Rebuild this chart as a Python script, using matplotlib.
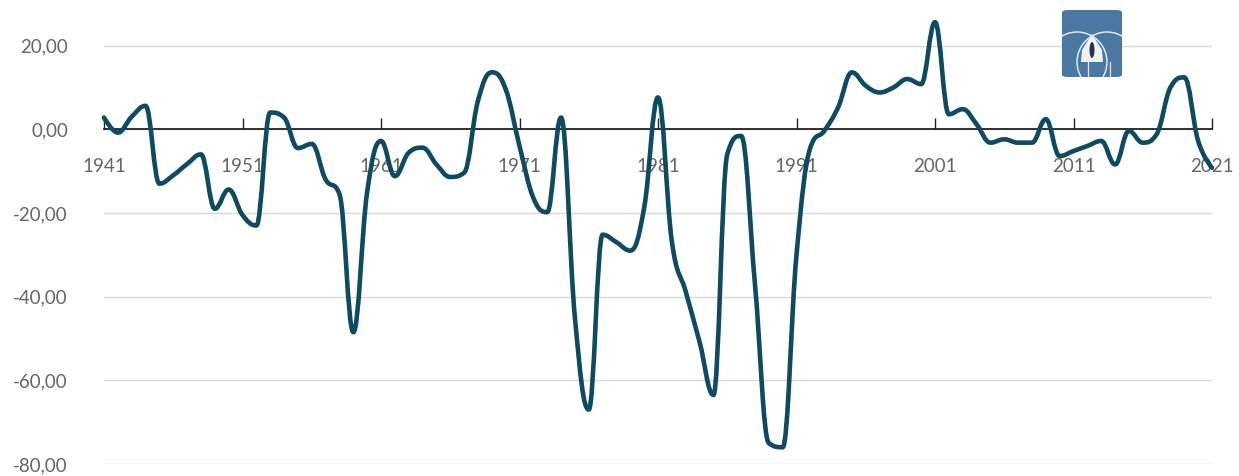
import numpy as np
import matplotlib.pyplot as plt
from matplotlib.path import Path
from matplotlib.patches import PathPatch, FancyBboxPatch, Polygon, Ellipse

years = list(range(1941, 2022))
values = [2.8, -0.8, 3.0, 5.6, -13.0, -11.0, -8.3, -6.0, -19.0, -14.4,
          -20.5, -23.0, 4.0, 2.8, -4.5, -3.5, -12.0, -15.5, -48.5, -15.0,
          -2.8, -11.2, -5.6, -4.4, -8.4, -11.4, -10.4, 6.8, 13.6, 9.6,
          -4.0, -16.4, -19.8, 2.8, -45.0, -67.0, -25.2, -27.0, -29.0, -18.8,
          7.6, -26.8, -38.8, -50.8, -63.5, -6.0, -1.6, -37.0, -75.0, -76.0,
          -30.0, -4.4, -0.4, 5.2, 13.6, 10.4, 8.8, 10.0, 12.0, 10.8,
          25.6, 3.6, 4.8, 1.2, -3.2, -2.4, -3.2, -3.2, 2.4, -6.4,
          -5.2, -4.0, -2.8, -8.4, -0.4, -3.2, -1.2, 10.0, 12.4, -2.8,
          -9.2]
y_ticks = [-80, -60, -40, -20, 0, 20]
x_ticks = [1941, 1951, 1961, 1971, 1981, 1991, 2001, 2011, 2021]


def spline_path(xs, ys, smoothing=1.5):
    # highcharts-style spline through the points
    n = len(xs)
    denom = smoothing + 1
    left = [None] * n
    right = [None] * n
    for i in range(1, n - 1):
        lx, ly = xs[i - 1], ys[i - 1]
        px, py = xs[i], ys[i]
        nx, ny = xs[i + 1], ys[i + 1]
        lcx = (smoothing * px + lx) / denom
        lcy = (smoothing * py + ly) / denom
        rcx = (smoothing * px + nx) / denom
        rcy = (smoothing * py + ny) / denom
        corr = (rcy - lcy) * (rcx - px) / (rcx - lcx) + py - rcy
        lcy += corr
        rcy += corr
        if lcy > ly and lcy > py:
            lcy = max(ly, py)
            rcy = 2 * py - lcy
        elif lcy < ly and lcy < py:
            lcy = min(ly, py)
            rcy = 2 * py - lcy
        if rcy > ny and rcy > py:
            rcy = max(ny, py)
            lcy = 2 * py - rcy
        elif rcy < ny and rcy < py:
            rcy = min(ny, py)
            lcy = 2 * py - rcy
        left[i] = (lcx, lcy)
        right[i] = (rcx, rcy)
    verts = [(xs[0], ys[0])]
    codes = [Path.MOVETO]
    for i in range(1, n):
        c1 = right[i - 1] if right[i - 1] else (xs[i - 1], ys[i - 1])
        c2 = left[i] if left[i] else (xs[i], ys[i])
        verts += [c1, c2, (xs[i], ys[i])]
        codes += [Path.CURVE4] * 3
    return Path(verts, codes)


plt.rcParams['font.family'] = ['Lato', 'DejaVu Sans']

W, H = 1239, 476
fig = plt.figure(figsize=(W / 100, H / 100), dpi=100)
ax = fig.add_axes([104 / W, 1 - 464 / H, (1212 - 104) / W, (464 - 5) / H])
ax.set_xlim(1941, 2021)
ax.set_ylim(-80, 29.7)

for yv in y_ticks:
    ax.axhline(yv, color='#dadada', lw=1.0, zorder=0)

patch = PathPatch(spline_path(years, values), facecolor='none',
                  edgecolor='#0e4a62', lw=3.3, capstyle='round',
                  joinstyle='round', zorder=3, clip_on=False)
ax.add_patch(patch)

for s in ['top', 'right', 'left']:
    ax.spines[s].set_visible(False)
ax.spines['bottom'].set_position(('data', 0))
ax.spines['bottom'].set_color('#222222')
ax.spines['bottom'].set_linewidth(1.3)

ax.set_xticks(x_ticks)
ax.set_xticklabels([str(x) for x in x_ticks])
ax.tick_params(axis='x', direction='in', length=8, width=1, color='#222222',
               pad=21, labelsize=13.5, labelcolor='#666666')
ax.set_yticks(y_ticks)
ax.set_yticklabels(['{:.2f}'.format(v).replace('.', ',') for v in y_ticks])
ax.tick_params(axis='y', length=0, pad=26, labelsize=13.5, labelcolor='#666666')


# logo in pixel coordinates
def fx(px):
    return px / W


def fy(py):
    return 1 - py / H


box = FancyBboxPatch((fx(1062), fy(77)), fx(60), 67 / H,
                     boxstyle='round,pad=0,rounding_size=0.005',
                     transform=fig.transFigure, facecolor='#4a78a2', edgecolor='none')
fig.patches.append(box)
lens = Polygon([(fx(1092), fy(34)), (fx(1082), fy(50)), (fx(1081), fy(62)),
                (fx(1103), fy(62)), (fx(1102), fy(50))], closed=True,
               transform=fig.transFigure, facecolor='#eef2f6', edgecolor='none')
fig.patches.append(lens)
for cx, cy in [(1077, 62), (1107, 62)]:
    c = Ellipse((fx(cx), fy(cy)), fx(60), 60 / H, transform=fig.transFigure,
                facecolor='none', edgecolor='#dde6ef', lw=1.1)
    fig.patches.append(c)
    c.set_clip_path(box)
for vx in [1088, 1110]:
    fig.lines.append(plt.Line2D([fx(vx), fx(vx)], [fy(62), fy(77)], transform=fig.transFigure,
                                color='#dde6ef', lw=0.9))
fig.patches.append(Ellipse((fx(1092), fy(50)), fx(5), 16 / H, transform=fig.transFigure,
                           facecolor='#1d3550', edgecolor='none'))

fig.savefig('out.png', dpi=100)
